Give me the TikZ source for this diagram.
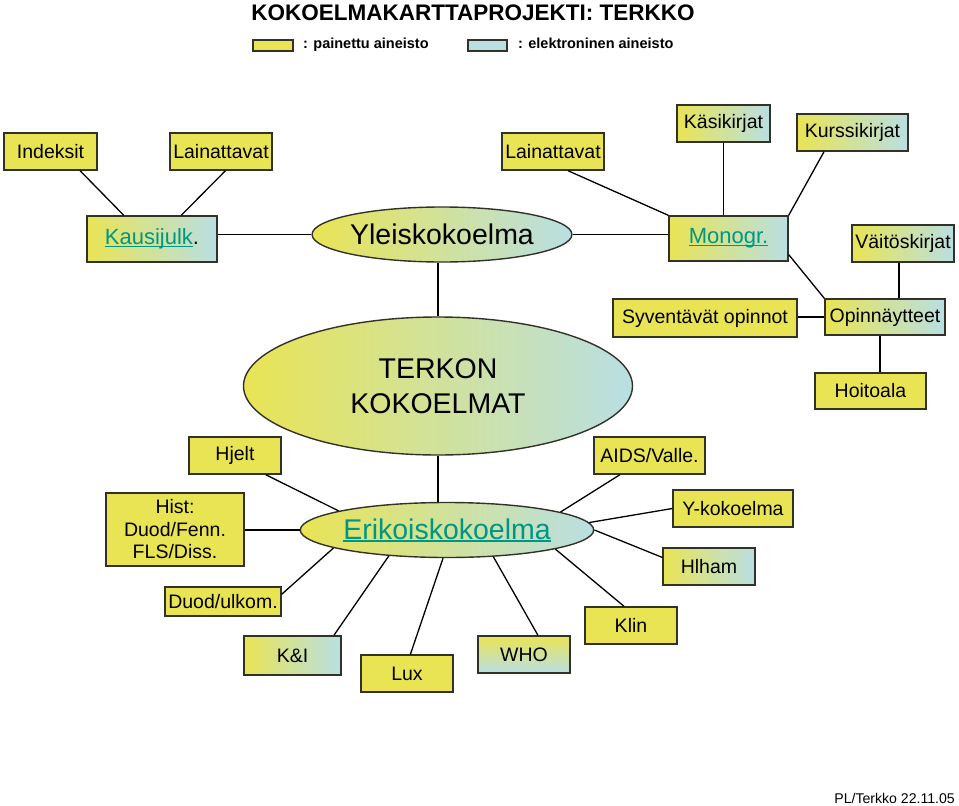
\documentclass[tikz,border=0pt]{standalone}
\usepackage{fontspec}
\setmainfont{Liberation Sans}
\usetikzlibrary{shapes.geometric,calc}
\definecolor{ryellow}{RGB}{233,228,84}
\definecolor{rblue}{RGB}{185,223,227}
\definecolor{rborder}{RGB}{50,50,40}
\definecolor{rlink}{RGB}{0,150,132}
\newcommand{\lnk}[1]{{\color{rlink}\setbox0\hbox{#1}\rlap{\rule[-2.4pt]{\wd0}{1.3pt}}\box0}}
\begin{document}
\begin{tikzpicture}[x=1pt,y=-1pt,
 box/.style={draw=rborder, line width=1.4pt, fill=ryellow, inner sep=0pt, align=center, font=\fontsize{19.5}{22.5}\selectfont},
 gbox/.style={box, left color=ryellow, right color=rblue},
 vbox/.style={box, top color=ryellow, bottom color=rblue},
 sz/.style 2 args={minimum width=#1pt, minimum height=#2pt},
 ell/.style={ellipse, draw=rborder, line width=1.4pt, left color=ryellow, right color=rblue, inner sep=0pt, align=center, font=\fontsize{28.5}{35}\selectfont},
 con/.style={draw=black, line width=1.3pt},
 legtxt/.style={font=\bfseries\fontsize{14.5}{17}\selectfont, anchor=base west, inner sep=0pt}]
\fill[white] (0,0) rectangle (959,806);
\useasboundingbox (0,0) rectangle (959,806);

% title and legend
\node[font=\bfseries\fontsize{22.5}{27}\selectfont, anchor=base, inner sep=0pt] (title) at (473,20.5) {KOKOELMAKARTTAPROJEKTI: TERKKO};
\node[box, sz={40}{11}] (legy) at (273,45.5) {};
\node[legtxt] (legyt) at (303,48.3) {: painettu aineisto};
\node[box, fill=rblue, sz={39}{11}] (legb) at (487.5,45.5) {};
\node[legtxt] (legbt) at (518,48.3) {: elektroninen aineisto};

% top part
\node[box, sz={93}{37}] (ind) at (50.5,151.5) {Indeksit};
\node[box, sz={102}{37}] (lai1) at (221,151.5) {Lainattavat};
\node[box, sz={102}{37}] (lai2) at (553,151.5) {Lainattavat};
\node[gbox, sz={93}{37}] (kasi) at (723.5,123.5) {Käsikirjat};
\node[gbox, sz={111}{37}] (kurssi) at (852.5,132.5) {Kurssikirjat};
\node[gbox, sz={130}{46}, font=\fontsize{22}{26}\selectfont] (kausi) at (152,239) {\lnk{Kausijulk}.};
\node[ell, sz={248}{55}] (yleis) at (442,234.5) {Yleiskokoelma};
\node[gbox, sz={119}{45}, font=\fontsize{22}{26}\selectfont] (mono) at (728.5,238.5) {\lnk{Monogr.}};
\node[gbox, sz={102}{37}] (vaito) at (903,243.5) {Väitöskirjat};
\node[gbox, sz={120}{36}] (opin) at (885,317) {Opinnäytteet};
\node[box, sz={184}{38}] (syv) at (705,318) {Syventävät opinnot};
\node[box, sz={111}{36}] (hoito) at (870.5,391) {Hoitoala};

% centre
\node[ell, sz={389}{138}] (terkon) at (438,386) {TERKON\\KOKOELMAT};
\node[ell, sz={257}{55}] (eri) at (447,530) {\lnk{Erikoiskokoelma}};

% bottom part
\node[box, sz={92}{37}] (hjelt) at (235,455.5) {Hjelt};
\node[box, sz={138}{73}] (hist) at (175,529.5) {Hist:\\Duod/Fenn.\\FLS/Diss.};
\node[box, sz={116}{29}] (duod) at (223,601.5) {Duod/ulkom.};
\node[gbox, sz={97}{39}] (ki) at (292.5,655.5) {K\&I};
\node[box, sz={92}{37}] (lux) at (407,673.5) {Lux};
\node[vbox, sz={92}{37}] (who) at (524,654.5) {WHO};
\node[box, sz={92}{37}] (klin) at (631,625.5) {Klin};
\node[gbox, sz={92}{37}] (hlham) at (709,566.5) {Hlham};
\node[box, sz={120}{37}] (ykok) at (733,508.5) {Y-kokoelma};
\node[box, sz={111}{37}] (aids) at (649.5,455.5) {AIDS/Valle.};

\node[font=\fontsize{14.1}{17}\selectfont, anchor=base east, inner sep=0pt] (sign) at (955,803) {PL/Terkko 22.11.05};

% connectors, top
\draw[con] (ind.-33) -- (kausi.140.6);
\draw[con] (lai1.-77.8) -- (kausi.39.4);
\draw[con] (yleis.west) -- (yleis.west -| kausi.east);
\draw[con] (yleis.east) -- (yleis.east -| mono.west);
\draw[con] (lai2.-52.9) -- (mono.north west);
\draw[con] (kasi.south) -- (kasi.south |- mono.north);
\draw[con] (kurssi.-146.1) -- (mono.north east);
\draw[con] (mono.-15.5) -- (opin.north west);
\coordinate (v1) at ($(vaito.south)+(-4,0)$);
\draw[con] (v1) -- (v1 |- opin.north);
\draw[con] (opin.west) -- (opin.west -| syv.east);
\coordinate (o1) at ($(opin.south)+(-5,0)$);
\draw[con] (o1) -- (o1 |- hoito.north);
\draw[con] (terkon.north) -- (terkon.north |- yleis.south);
\draw[con] (terkon.south) -- (terkon.south |- eri.north);

% connectors, spokes
\draw[con] (hjelt.-32.5) -- (eri.170);
\draw[con] (eri.west) -- (eri.west -| hist.east);
\draw[con] (duod.7.4) -- (eri.189.5);
\draw[con] (ki.26.3) -- (eri.204.4);
\draw[con] (lux.80.8) -- (eri.262);
\draw[con] (who.54.9) -- (eri.330.8);
\draw[con] (klin.110.7) -- (eri.350.5);
\draw[con] (hlham.169.5) -- (eri.east);
\draw[con] (ykok.west) -- (eri.3.7);
\draw[con] (aids.213.9) -- (eri.9.5);
\end{tikzpicture}
\end{document}
